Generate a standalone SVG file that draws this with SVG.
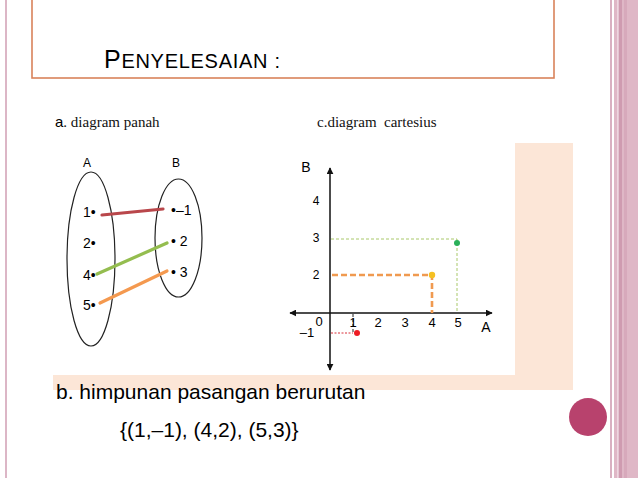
<svg xmlns="http://www.w3.org/2000/svg" width="638" height="478" viewBox="0 0 638 478">
<defs>
<style>
.sans{font-family:"Liberation Sans",Arial,sans-serif;fill:#000}
.serif{font-family:"Liberation Serif","Times New Roman",serif;fill:#111}
.el{fill:none;stroke:#222;stroke-width:1.2}
.ax{stroke:#111;stroke-width:1.5;fill:none}
</style>
<marker id="ah" viewBox="0 0 10 10" refX="9" refY="5" markerWidth="7" markerHeight="7" orient="auto-start-reverse" markerUnits="userSpaceOnUse">
<path d="M0,0 L10,5 L0,10 Z" fill="#111"/>
</marker>
</defs>
<rect width="638" height="478" fill="#fff"/>
<!-- borders -->
<rect x="5" y="0" width="2" height="478" fill="#dcb6c6"/>
<rect x="610" y="0" width="2" height="478" fill="#d9b0c1"/>
<rect x="614" y="0" width="24" height="478" fill="#dfb7c6"/>
<rect x="617" y="0" width="1.5" height="478" fill="#eed6e0"/>
<rect x="619" y="0" width="3" height="478" fill="#cf9bb0"/>
<rect x="624" y="0" width="3" height="478" fill="#d7a9bb"/>
<!-- title box -->
<rect x="32" y="-5" width="522" height="83" fill="none" stroke="#d9825a" stroke-width="1.6"/>
<text class="sans" x="104" y="68" font-size="25" textLength="176" lengthAdjust="spacing">P<tspan font-size="20">ENYELESAIAN :</tspan></text>
<!-- peach background -->
<rect x="515" y="143" width="58" height="247" fill="#fce6d7"/>
<rect x="53" y="375" width="520" height="15" fill="#fce6d7"/>
<!-- section labels -->
<text class="sans" x="55" y="127" font-size="15">a<tspan class="serif" font-size="15">. diagram panah</tspan></text>
<text class="serif" x="317" y="127" font-size="15" xml:space="preserve">c.diagram  cartesius</text>
<!-- arrow diagram -->
<g id="setA">
<ellipse class="el" cx="91" cy="259" rx="24" ry="87"/>
<text class="sans" x="87" y="167" font-size="12" text-anchor="middle">A</text>
<text class="sans" x="83" y="217" font-size="14">1•</text>
<text class="sans" x="83" y="248" font-size="14">2•</text>
<text class="sans" x="83" y="280" font-size="14">4•</text>
<text class="sans" x="83" y="310" font-size="14">5•</text>
</g>
<g id="setB">
<ellipse class="el" cx="178.5" cy="238" rx="23.5" ry="59"/>
<text class="sans" x="176" y="167" font-size="12" text-anchor="middle">B</text>
<text class="sans" x="171" y="215" font-size="14">•–1</text>
<text class="sans" x="171" y="246" font-size="14">• 2</text>
<text class="sans" x="171" y="277" font-size="14">• 3</text>
</g>
<g id="mapping" stroke-width="3.2" stroke-linecap="round">
<line x1="102" y1="215" x2="163" y2="209" stroke="#b9474b"/>
<line x1="97" y1="274" x2="167" y2="243" stroke="#94bd4f"/>
<line x1="100" y1="303" x2="167" y2="271" stroke="#f4994f"/>
</g>
<!-- cartesian -->
<g id="axes">
<line class="ax" x1="330" y1="313" x2="330" y2="168" marker-end="url(#ah)"/>
<line class="ax" x1="330" y1="313" x2="330" y2="370" marker-end="url(#ah)"/>
<line class="ax" x1="330" y1="313" x2="492" y2="313" marker-end="url(#ah)"/>
<line class="ax" x1="330" y1="313" x2="290" y2="313" marker-end="url(#ah)"/>
</g>
<g id="guides" fill="none">
<polyline points="331,239 457,239 457,313" stroke="#a9c86a" stroke-width="1" stroke-dasharray="3,2"/>
<polyline points="332,275 432,275 432,313" stroke="#f09a50" stroke-width="2.6" stroke-dasharray="6,3"/>
<line x1="331" y1="333" x2="353" y2="333" stroke="#d9303a" stroke-width="1" stroke-dasharray="2,1.5"/>
<line x1="353" y1="314" x2="353" y2="333" stroke="#222" stroke-width="1" stroke-dasharray="3,2"/>
</g>
<g id="points">
<circle cx="457" cy="243" r="3" fill="#2ab05a"/>
<circle cx="432" cy="275" r="3.2" fill="#f5c022"/>
<circle cx="357" cy="333" r="3" fill="#ee1c24"/>
</g>
<g id="labels" class="sans">
<text x="306" y="172" font-size="14" text-anchor="middle" class="sans">B</text>
<text x="316" y="205" font-size="12" text-anchor="middle" class="sans">4</text>
<text x="316" y="242" font-size="12" text-anchor="middle" class="sans">3</text>
<text x="316" y="279" font-size="12" text-anchor="middle" class="sans">2</text>
<text x="319" y="326" font-size="13" text-anchor="middle" class="sans">0</text>
<text x="353" y="327" font-size="13" text-anchor="middle" class="sans">1</text>
<text x="378" y="327" font-size="13" text-anchor="middle" class="sans">2</text>
<text x="405" y="327" font-size="13" text-anchor="middle" class="sans">3</text>
<text x="432" y="327" font-size="13" text-anchor="middle" class="sans">4</text>
<text x="458" y="327" font-size="13" text-anchor="middle" class="sans">5</text>
<text x="486" y="332" font-size="14" text-anchor="middle" class="sans">A</text>
<text x="307" y="337" font-size="13" text-anchor="middle" class="sans">–1</text>
</g>
<!-- bottom text -->
<text class="sans" x="56" y="399" font-size="21">b. himpunan pasangan berurutan</text>
<text class="sans" x="120" y="437" font-size="21">{(1,–1), (4,2), (5,3)}</text>
<circle cx="588" cy="417" r="19" fill="#b8426d"/>
</svg>
